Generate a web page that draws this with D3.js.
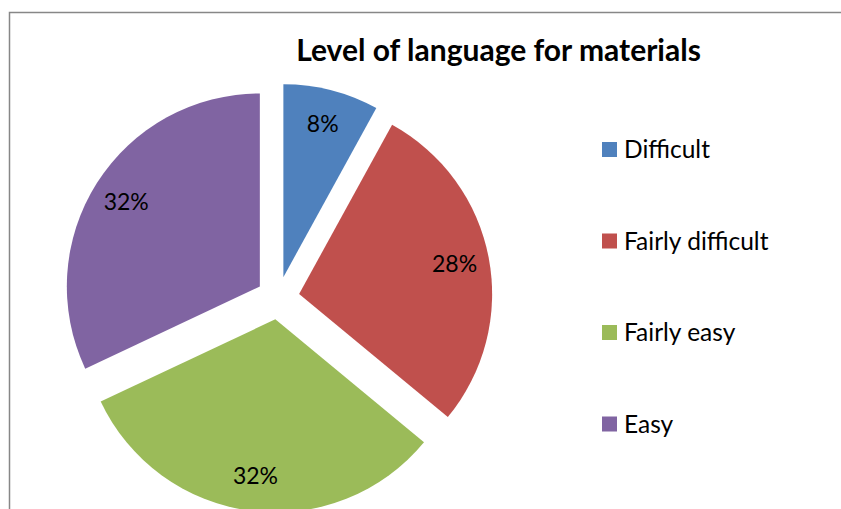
<!DOCTYPE html>
<html>
<head>
<meta charset="utf-8">
<script src="https://cdn.jsdelivr.net/npm/d3@7"></script>
<style>
  body { margin: 0; background: #fff; }
  text { font-family: Lato, "Open Sans", sans-serif; fill: #000; }
</style>
</head>
<body>
<div id="chart"></div>
<script>
var categories = ["Difficult", "Fairly difficult", "Fairly easy", "Easy"];
var values = [8, 28, 32, 32];
var colors = ["#4F81BD", "#C0504D", "#9BBB59", "#8064A2"];
var title = "Level of language for materials";

var width = 841, height = 509;
var cx = 278, cy = 298, radius = 193, explode = 21.5;

var svg = d3.select("#chart")
  .append("svg")
  .attr("width", width)
  .attr("height", height);

// chart frame (cropped on the right and bottom)
svg.append("path")
  .attr("d", "M9.5," + height + "V12.5H" + width)
  .attr("fill", "none")
  .attr("stroke", "#878787")
  .attr("stroke-width", 1.5);

var pie = d3.pie().sort(null).value(function(d) { return d; });
var arcs = pie(values);

var arc = d3.arc().innerRadius(0).outerRadius(radius);
var labelArc = d3.arc().innerRadius(radius * 0.82).outerRadius(radius * 0.82);

function offset(d) {
  var a = (d.startAngle + d.endAngle) / 2;
  return [cx + explode * Math.sin(a), cy - explode * Math.cos(a)];
}

var slices = svg.append("g")
  .selectAll("g")
  .data(arcs)
  .enter().append("g")
    .attr("transform", function(d) { return "translate(" + offset(d) + ")"; });

slices.append("path")
  .attr("d", arc)
  .attr("fill", function(d, i) { return colors[i]; });

slices.append("text")
  .attr("transform", function(d) { return "translate(" + labelArc.centroid(d) + ")"; })
  .attr("text-anchor", "middle")
  .attr("dy", "0.35em")
  .style("font-size", "23px")
  .text(function(d) { return d.data + "%"; });

// title
svg.append("text")
  .attr("x", 498.5)
  .attr("y", 61)
  .attr("text-anchor", "middle")
  .style("font-size", "30px")
  .style("font-weight", "bold")
  .text(title);

// legend
var legend = svg.append("g")
  .selectAll("g")
  .data(categories)
  .enter().append("g")
    .attr("transform", function(d, i) { return "translate(602," + (149.5 + i * 91.5) + ")"; });

legend.append("rect")
  .attr("x", 0)
  .attr("y", -7.5)
  .attr("width", 15)
  .attr("height", 15)
  .attr("fill", function(d, i) { return colors[i]; });

legend.append("text")
  .attr("x", 22)
  .attr("dy", "0.35em")
  .style("font-size", "24.5px")
  .text(function(d) { return d; });
</script>
</body>
</html>
